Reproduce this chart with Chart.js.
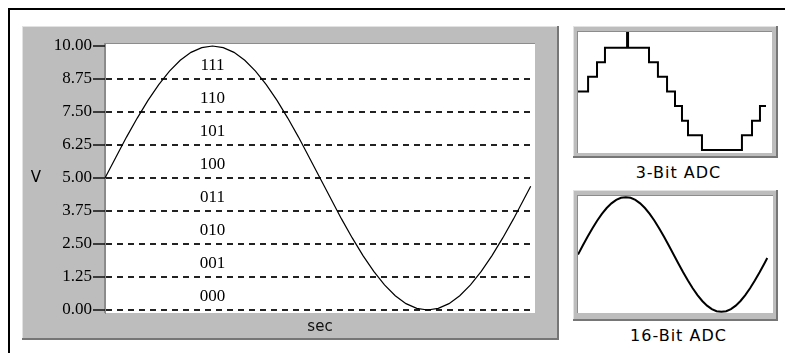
<!DOCTYPE html>
<html>
<head>
<meta charset="utf-8">
<title>3-Bit vs 16-Bit ADC</title>
<script src="https://cdn.jsdelivr.net/npm/chart.js@4.4.1/dist/chart.umd.min.js"></script>
<style>
  body { margin: 0; width: 785px; height: 353px; overflow: hidden; background: #fff; position: relative; }
  #frame { position: absolute; left: 8px; top: 8px; width: 800px; height: 400px; border-top: 2px solid #000; border-left: 2px solid #000; }
  canvas { position: absolute; }
  #main { left: 22px; top: 26px; }
  #bit3 { left: 573px; top: 26px; }
  #bit16 { left: 573px; top: 190px; }
  .cap { position: absolute; left: 576px; width: 205px; text-align: center; font: 16px "DejaVu Sans", sans-serif; letter-spacing: 1px; line-height: 19px; color: #000; }
</style>
</head>
<body>
<div id="frame"></div>
<canvas id="main" width="537" height="314"></canvas>
<canvas id="bit3" width="205" height="132"></canvas>
<canvas id="bit16" width="205" height="131"></canvas>
<div class="cap" style="top:163px">3-Bit ADC</div>
<div class="cap" style="top:326px">16-Bit ADC</div>
<script>
// sine (one period, volts)
var timeSec = [0, 0.025, 0.05, 0.075, 0.1, 0.125, 0.15, 0.175, 0.2, 0.225,
               0.25, 0.275, 0.3, 0.325, 0.35, 0.375, 0.4, 0.425, 0.45, 0.475,
               0.5, 0.525, 0.55, 0.575, 0.6, 0.625, 0.65, 0.675, 0.7, 0.725,
               0.75, 0.775, 0.8, 0.825, 0.85, 0.875, 0.9, 0.925, 0.95, 0.975, 0.99];
var voltsSine = [5.00, 5.78, 6.55, 7.27, 7.94, 8.54, 9.05, 9.46, 9.76, 9.94,
                 10.00, 9.94, 9.76, 9.46, 9.05, 8.54, 7.94, 7.27, 6.55, 5.78,
                 5.00, 4.22, 3.45, 2.73, 2.06, 1.46, 0.95, 0.54, 0.24, 0.06,
                 0.00, 0.06, 0.24, 0.54, 0.95, 1.46, 2.06, 2.73, 3.45, 4.22, 4.69];
var tickVolts = [0, 1.25, 2.5, 3.75, 5, 6.25, 7.5, 8.75, 10];
var codeLabels = ['000', '001', '010', '011', '100', '101', '110', '111'];

// 3-bit staircase: time where each code starts, and the code
var stepTime = [0, 0.052, 0.098, 0.139, 0.253, 0.258, 0.366, 0.412, 0.459,
                0.5, 0.536, 0.567, 0.639, 0.845, 0.897, 0.938, 0.969];
var stepCode = [4, 5, 6, 7, 8.1, 7, 6, 5, 4, 3, 2, 1, 0, 1, 2, 3, 3];

function pts(xs, ys) {
    return xs.map(function (x, i) { return {x: x, y: ys[i]}; });
}

// grey bevelled panel with a white plot well
var panel = {
    id: 'panel',
    beforeDraw: function (chart) {
        var ctx = chart.ctx, a = chart.chartArea;
        ctx.save();
        ctx.fillStyle = '#bdbdbd';
        ctx.fillRect(0, 0, chart.width, chart.height);
        ctx.fillStyle = '#e2e2e2';
        ctx.fillRect(0, 0, chart.width, 1);
        ctx.fillRect(0, 0, 1, chart.height);
        ctx.fillStyle = '#767676';
        ctx.fillRect(chart.width - 2, 0, 2, chart.height);
        ctx.fillRect(0, chart.height - 2, chart.width, 2);
        ctx.fillStyle = '#fff';
        ctx.fillRect(a.left, a.top, a.right - a.left, a.bottom - a.top);
        ctx.fillStyle = '#8c8c8c';
        ctx.fillRect(a.left - 1, a.top - 1, a.right - a.left + 1, 1);
        ctx.fillRect(a.left - 1, a.top - 1, 1, a.bottom - a.top + 1);
        ctx.restore();
    }
};

// code labels between the dashed lines, and the upright V
var annotate = {
    id: 'annotate',
    afterDraw: function (chart) {
        var ctx = chart.ctx, x = chart.scales.x, y = chart.scales.y;
        ctx.save();
        ctx.fillStyle = '#000';
        ctx.textAlign = 'center';
        ctx.textBaseline = 'middle';
        ctx.font = '17px "Liberation Serif"';
        codeLabels.forEach(function (c, i) {
            ctx.fillText(c, x.getPixelForValue(0.25), y.getPixelForValue((i + 0.5) * 1.25) + 3);
        });
        ctx.font = '15px "DejaVu Sans"';
        ctx.fillText('V', 14, y.getPixelForValue(5));
        ctx.restore();
    }
};

new Chart(document.getElementById('main'), {
    type: 'line',
    data: {
        datasets: [{
            data: pts(timeSec, voltsSine),
            borderColor: '#000',
            borderWidth: 1.2,
            pointRadius: 0,
            tension: 0
        }]
    },
    options: {
        responsive: false,
        animation: false,
        layout: {padding: {left: 0, top: 18, right: 24, bottom: 0}},
        plugins: {legend: {display: false}, tooltip: {enabled: false}},
        scales: {
            x: {
                type: 'linear', min: 0, max: 1,
                ticks: {display: false},
                grid: {display: false},
                border: {display: false},
                title: {display: true, text: 'sec', color: '#111',
                        font: {family: 'DejaVu Sans', size: 15}, padding: {top: 0, bottom: 4}},
                afterFit: function (s) { s.height = 27; }
            },
            y: {
                min: -0.114, max: 10.076,
                afterBuildTicks: function (s) {
                    s.ticks = tickVolts.map(function (v) { return {value: v}; });
                },
                afterFit: function (s) { s.width = 83; },
                ticks: {
                    color: '#000', padding: 1,
                    font: {family: 'Liberation Serif', size: 17},
                    callback: function (v) { return v.toFixed(2); }
                },
                grid: {
                    color: function (c) { return c.tick && c.tick.value === 10 ? 'rgba(0,0,0,0)' : '#222'; },
                    lineWidth: 2,
                    tickLength: 12,
                    tickColor: '#111',
                    tickWidth: 1.5
                },
                border: {display: true, color: '#8a8a8a', width: 1, dash: [6, 5]}
            }
        }
    },
    plugins: [panel, annotate]
});

function small(id, data, yMin, yMax, xMax, stepped, pad) {
    return new Chart(document.getElementById(id), {
        type: 'line',
        data: {
            datasets: [{
                data: data,
                borderColor: '#000',
                borderWidth: 2,
                pointRadius: 0,
                tension: 0,
                stepped: stepped,
                borderJoinStyle: 'miter'
            }]
        },
        options: {
            responsive: false,
            animation: false,
            layout: {padding: pad},
            plugins: {legend: {display: false}, tooltip: {enabled: false}},
            scales: {
                x: {type: 'linear', display: false, min: 0, max: xMax},
                y: {display: false, min: yMin, max: yMax}
            }
        },
        plugins: [panel]
    });
}

small('bit3', pts(stepTime, stepCode), -0.21, 8.07, 1, 'before', {left: 5, top: 6, right: 6, bottom: 5});
small('bit16', pts(timeSec, voltsSine), -0.1, 10.1, 1.02, false, {left: 5, top: 6, right: 5, bottom: 8});
</script>
</body>
</html>
